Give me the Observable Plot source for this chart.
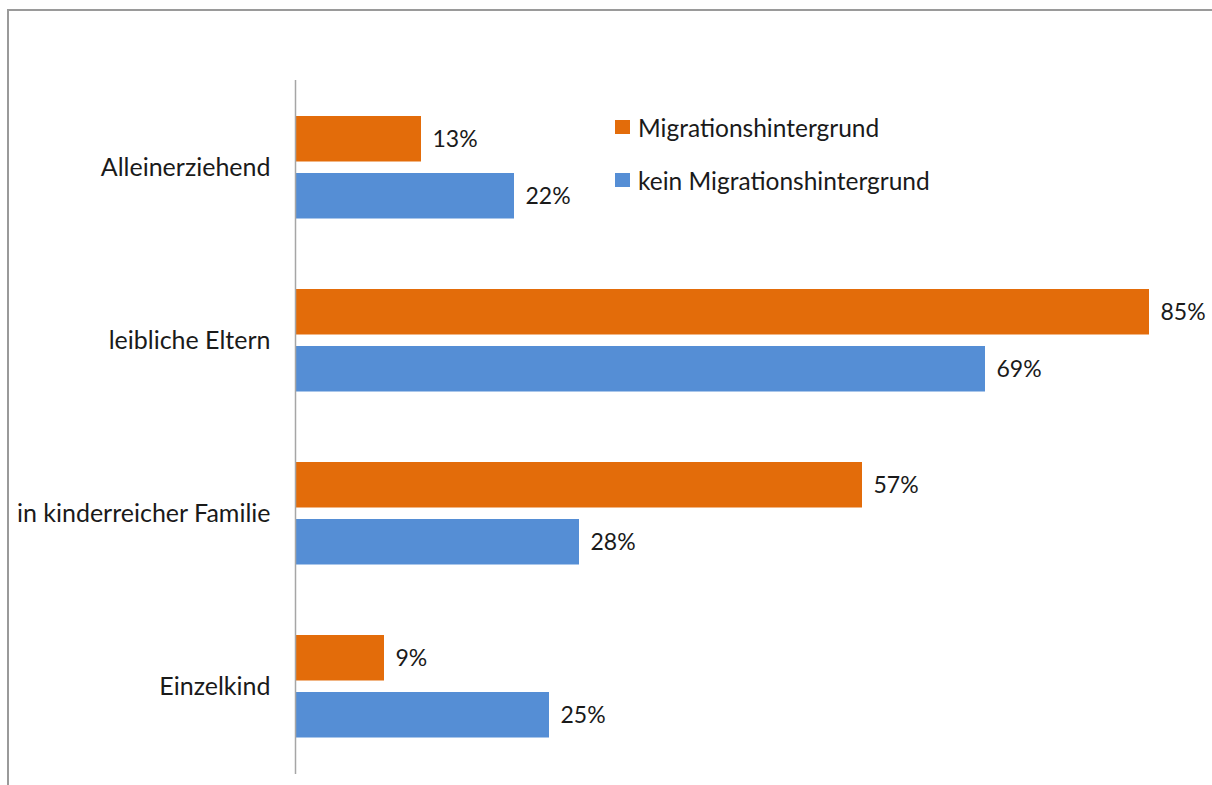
<!DOCTYPE html>
<html>
<head>
<meta charset="utf-8">
<script src="https://cdn.jsdelivr.net/npm/d3@7"></script>
<script src="https://cdn.jsdelivr.net/npm/@observablehq/plot@0.6"></script>
<style>
  html, body { margin: 0; padding: 0; background: #fff; }
  #wrap { position: relative; width: 1212px; height: 785px; overflow: hidden; font-family: Lato, "Open Sans", sans-serif; }
  #frame { position: absolute; left: 7px; top: 9px; width: 2000px; height: 2000px; border-top: 2px solid #9a9a9a; border-left: 2px solid #9a9a9a; box-sizing: border-box; pointer-events: none; }
  #chart { position: absolute; left: 0; top: 0; }
  #legend { position: absolute; left: 615px; top: 113px; font-size: 24.5px; color: #1a1a1a; }
  .item { display: flex; align-items: center; height: 28px; margin-bottom: 25px; }
  .sw { width: 15px; height: 14px; margin-right: 8px; }
</style>
</head>
<body>
<div id="wrap">
  <div id="frame"></div>
  <div id="chart"></div>
  <div id="legend"></div>
</div>
<script>
const categories = ["Alleinerziehend", "leibliche Eltern", "in kinderreicher Familie", "Einzelkind"];
const seriesNames = ["Migrationshintergrund", "kein Migrationshintergrund"];
const seriesColors = ["#E36C0A", "#558ED5"];
const migration = [12.6, 85.4, 56.7, 8.9];
const noMigration = [21.9, 69.0, 28.4, 25.4];

const dataMig = categories.map((c, i) => ({category: c, value: migration[i]}));
const dataNo = categories.map((c, i) => ({category: c, value: noMigration[i]}));
const fmt = v => Math.round(v) + "%";

const chart = Plot.plot({
  width: 1212,
  height: 785,
  marginTop: 80,
  marginBottom: 11,
  marginLeft: 295,
  marginRight: 17,
  style: {fontFamily: "Lato, 'Open Sans', sans-serif", fontSize: "24px", color: "#1a1a1a", background: "transparent"},
  x: {domain: [0, 90], axis: null},
  y: {domain: categories, padding: 0, label: null},
  marks: [
    Plot.barX(dataMig, {x: "value", y: "category", fill: seriesColors[0], insetTop: 35, insetBottom: 92.5}),
    Plot.barX(dataNo, {x: "value", y: "category", fill: seriesColors[1], insetTop: 92, insetBottom: 35.5}),
    Plot.text(dataMig, {x: "value", y: "category", text: d => fmt(d.value), dx: 11, dy: -28.75, textAnchor: "start", fontSize: 23, fill: "#1a1a1a"}),
    Plot.text(dataNo, {x: "value", y: "category", text: d => fmt(d.value), dx: 11, dy: 28.25, textAnchor: "start", fontSize: 23, fill: "#1a1a1a"}),
    Plot.ruleX([0], {stroke: "#a6a6a6", strokeWidth: 1.5}),
    Plot.axisY({tickSize: 0, tickPadding: 25, fontSize: 25, label: null, fill: "#1a1a1a"})
  ]
});
document.getElementById("chart").appendChild(chart);

const legend = document.getElementById("legend");
seriesNames.forEach((name, i) => {
  const item = document.createElement("div");
  item.className = "item";
  const sw = document.createElement("div");
  sw.className = "sw";
  sw.style.background = seriesColors[i];
  const t = document.createElement("span");
  t.textContent = name;
  item.appendChild(sw);
  item.appendChild(t);
  legend.appendChild(item);
});
</script>
</body>
</html>
